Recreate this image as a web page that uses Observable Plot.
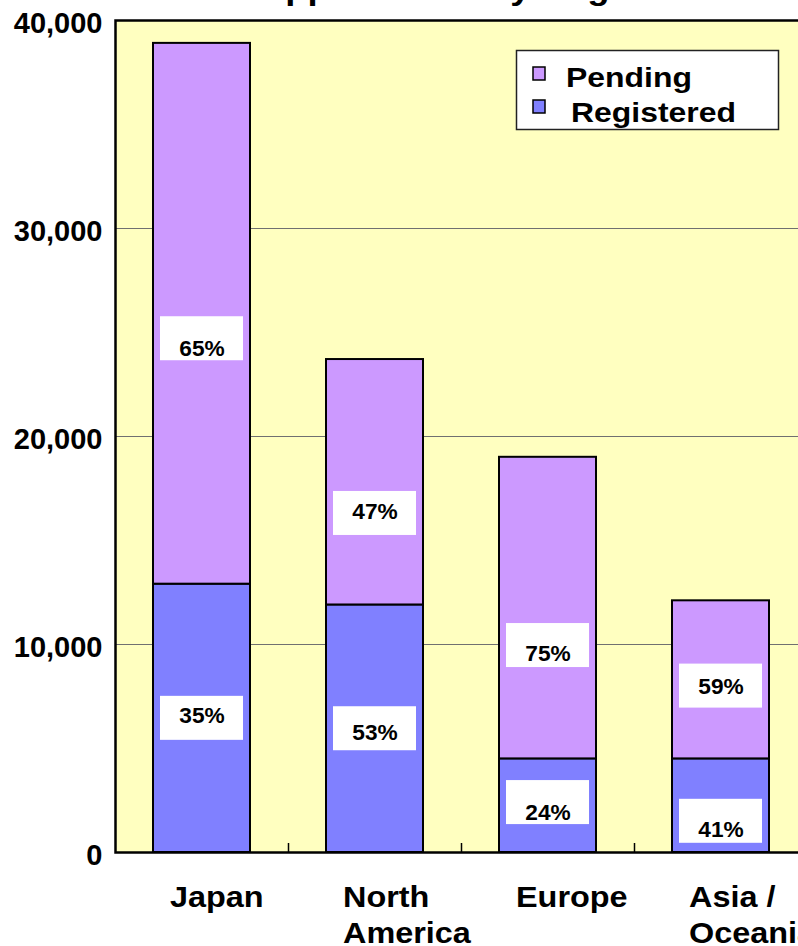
<!DOCTYPE html>
<html><head><meta charset="utf-8">
<script src="https://cdn.jsdelivr.net/npm/d3@7"></script>
<script src="https://cdn.jsdelivr.net/npm/@observablehq/plot@0.6"></script>
<style>
html,body{margin:0;padding:0;background:#fff;overflow:hidden;}
#chart{width:798px;height:946px;overflow:hidden;position:relative;}
#chart svg{display:block;max-width:none !important;width:808px !important;height:946px !important;}
</style></head><body><div id="chart"></div>
<script>
// ---- data ----
const title = "Applications by Region";
const categories = ["Japan", "North America", "Europe", "Asia / Oceania"];
const categoryLabels = ["Japan", "North\nAmerica", "Europe", "Asia /\nOceania"];
const registered = [12900, 11900, 4500, 4500];
const pending = [26000, 11800, 14500, 7600];
const registeredPct = ["35%", "53%", "24%", "41%"];
const pendingPct = ["65%", "47%", "75%", "59%"];
const registeredBoxY = [6450, 5950, 2400, 1500];
const pendingBoxY = [24700, 16300, 9950, 8000];
const registeredTextY = [6550, 5750, 1900, 1100];
const pendingTextY = [24200, 16350, 9550, 7950];
const yTicks = [0, 10000, 20000, 30000, 40000];
const seriesNames = ["Pending", "Registered"];
const seriesColors = ["#cc99ff", "#8080ff"];

// ---- layout ----
const W = 808, H = 946, mT = 20, mB = 94, mL = 115, mR = 1;
const plotH = H - mT - mB;
const yMax = 40000;
const step = (W - mL - mR) / categories.length;
const boxHalf = 22 * yMax / plotH;
const FONT = "'Liberation Sans', Arial, Helvetica, sans-serif";

const rows = categories.flatMap((c, i) => [
  {cat: c, series: "Registered", y1: 0, y2: registered[i]},
  {cat: c, series: "Pending", y1: registered[i], y2: registered[i] + pending[i]}
]);
const labelRows = categories.flatMap((c, i) => [
  {cat: c, text: registeredPct[i], boxY: registeredBoxY[i], textY: registeredTextY[i]},
  {cat: c, text: pendingPct[i], boxY: pendingBoxY[i], textY: pendingTextY[i]}
]);

const svg = Plot.plot({
  width: W, height: H,
  marginTop: mT, marginBottom: mB, marginLeft: mL, marginRight: mR,
  style: {fontFamily: FONT, fontSize: "29px", fontWeight: "bold", color: "black", background: "white", maxWidth: "none"},
  x: {domain: categories, paddingInner: 0.44, paddingOuter: 0.22, axis: null},
  y: {domain: [0, yMax], axis: null},
  color: {domain: seriesNames, range: seriesColors},
  marks: [
    Plot.frame({fill: "#ffffc0"}),
    Plot.ruleY(yTicks.slice(1, -1), {stroke: "#707070", strokeWidth: 1}),
    Plot.barY(rows, {x: "cat", y1: "y1", y2: "y2", fill: "series", stroke: "black", strokeWidth: 2}),
    Plot.barY(labelRows, {x: "cat", y1: d => d.boxY - boxHalf, y2: d => d.boxY + boxHalf, fill: "white", insetLeft: 7, insetRight: 7}),
    Plot.text(labelRows, {x: "cat", y: "textY", text: "text", fontSize: 22, fontWeight: "bold", fill: "black", lineAnchor: "middle"}),
    Plot.ruleX(categories.slice(0, 3), {x: d => d, dx: step / 2, insetTop: plotH - 9, stroke: "black", strokeWidth: 1.5}),
    Plot.frame({stroke: "black", strokeWidth: 2.5}),
    Plot.axisY({ticks: yTicks, tickFormat: d3.format(","), tickSize: 0, tickPadding: 13, fontSize: 29, fontWeight: "bold", dy: 3, label: null}),
    Plot.text(categories, {x: d => d, text: categoryLabels, frameAnchor: "bottom", textAnchor: "start", lineAnchor: "top", dy: 29, dx: -32, fontSize: 30, fontWeight: "bold", lineHeight: 1.2, fill: "black"}),
    Plot.text([title], {frameAnchor: "top", lineAnchor: "bottom", dy: -22, fontSize: 32, fontWeight: "bold", fill: "black"})
  ]
});
document.getElementById("chart").append(svg);

// legend inside plot area
const lg = d3.select(svg).append("g").attr("font-family", FONT).attr("font-weight", "bold").attr("text-anchor", "start");
lg.append("rect").attr("x", 516.5).attr("y", 50.5).attr("width", 262).attr("height", 79)
  .attr("fill", "white").attr("stroke", "#222").attr("stroke-width", 1.5);
const legendY = [67, 100], legendTextX = [566, 571], legendBase = [87, 122];
seriesNames.forEach((s, i) => {
  lg.append("rect").attr("x", 533).attr("y", legendY[i]).attr("width", 12).attr("height", 13)
    .attr("fill", seriesColors[i]).attr("stroke", "black").attr("stroke-width", 1.5);
  lg.append("text").attr("class", "lgtext").attr("x", legendTextX[i]).attr("y", legendBase[i])
    .attr("text-anchor", "start").attr("font-size", 28).attr("fill", "black").text(s);
});

// horizontal stretch of text to mimic the source's aspect
const stretchBySize = {"22px": 1.03, "29px": 1.0, "30px": 1.08, "32px": 1.14};
svg.querySelectorAll("text").forEach(t => {
  const fs = getComputedStyle(t).fontSize;
  const S = t.classList.contains("lgtext") ? 1.14 : (stretchBySize[fs] || 1);
  if (S === 1) return;
  const spans = t.querySelectorAll("tspan");
  const targets = spans.length ? Array.from(spans) : [t];
  targets.forEach(el => {
    const L = el.getComputedTextLength();
    if (L > 0) { el.setAttribute("textLength", L * S); el.setAttribute("lengthAdjust", "spacingAndGlyphs"); }
  });
});
</script></body></html>
